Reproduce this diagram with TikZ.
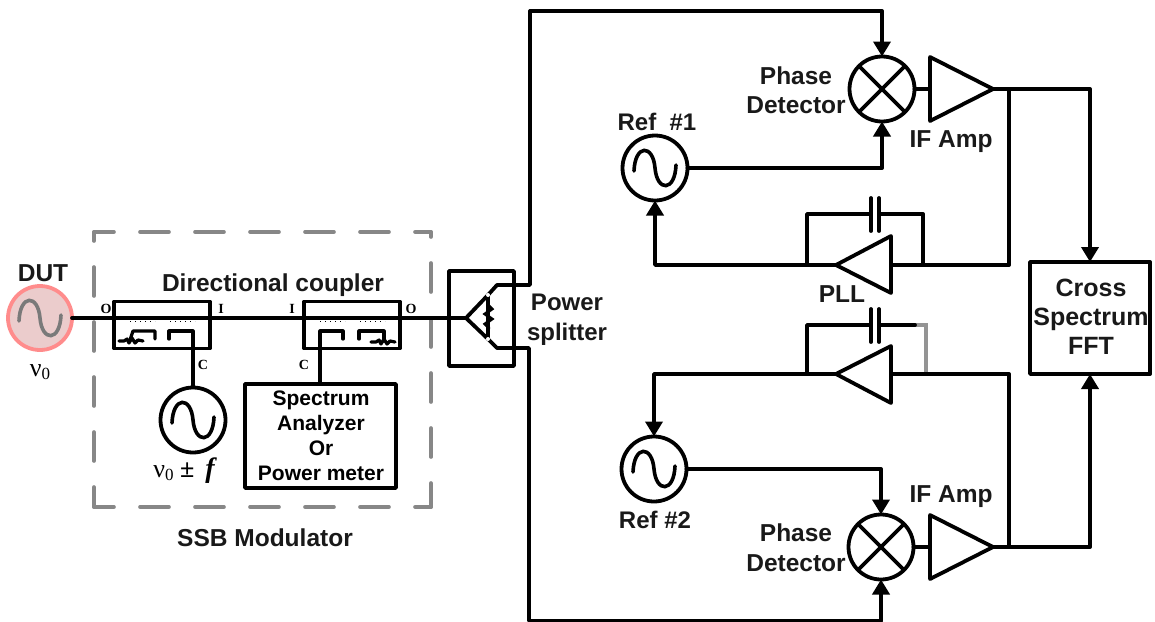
\documentclass[tikz,border=0pt]{standalone}
\usepackage{fontspec}
\setmainfont{Liberation Sans}
\newfontfamily\serifb{Liberation Serif}
\usetikzlibrary{arrows.meta,calc}
\tikzset{
  wire/.style={line width=3.8pt,line join=round,line cap=round,black},
  arr/.style={wire,-{Triangle[length=15pt,width=17pt]}},
  src/.style={circle,draw,line width=3.8pt,minimum size=65pt,inner sep=0pt,outer sep=0pt},
  lab/.style={font=\fontsize{24.5}{26}\bfseries\selectfont,align=center,inner sep=0pt,text=black!90},
  smallab/.style={font=\fontsize{21}{25}\bfseries\selectfont,align=center,inner sep=0pt},
  port/.style={font=\serifb\fontsize{14}{16}\bfseries\selectfont,inner sep=0pt},
  nu/.style={font=\serifb\fontsize{26}{28}\selectfont,inner sep=0pt},
  guard/.style={line width=3.6pt,draw=black!47,line cap=round,dash pattern=on 29pt off 26pt},
  dots/.style={line width=1pt,dash pattern=on 1pt off 4pt,black},
  box/.style={draw,line width=3.8pt,inner sep=0pt,outer sep=0pt,line join=round},
  thin2/.style={line width=3.2pt,line join=round,line cap=round}
}
\newcommand{\sinewave}[2][black]{\draw[line width=3.6pt,line cap=round,draw=#1,shift={(#2)}] (-21,3) .. controls (-20,-24) and (-2,-24) .. (0,0) .. controls (2,24) and (20,24) .. (21,-3);}
\newcommand{\mixcross}[1]{\draw[wire,line cap=butt] (#1.45)--(#1.225); \draw[wire,line cap=butt] (#1.135)--(#1.315);}
\newcommand{\squig}[1]{\draw[thin2,shift={(#1)}] (0,0) -- (5,0) -- (8,-2) -- (10,2) -- (13,-3) -- (16,2) -- (19,-1) -- (24,0);}
\begin{document}
\begin{tikzpicture}[x=1pt,y=-1pt]
\useasboundingbox (0,0) rectangle (1155,621);

% guard frame
\draw[guard,dash phase=20pt] (94,232) -- (94,507);
\draw[guard,dash phase=9pt] (94,507) -- (431,507);
\draw[guard,dash phase=9pt] (94,232) -- (431,232);
\draw[guard,dash phase=24pt] (431,232) -- (431,507);

% sources
\node[src,draw=red!45!white,fill=red!60!black!20!white,minimum size=64pt] (dut) at (40,318) {};
\sinewave[black!52]{dut}
\node[src] (lo) at (193,420) {};
\sinewave{lo}
\node[src] (ref1) at (655,168) {};
\sinewave{ref1}
\node[src] (ref2) at (654,469) {};
\sinewave{ref2}

% couplers
\node[box,minimum width=96pt,minimum height=47pt] (cp1) at (162,325) {};
\node[box,minimum width=96pt,minimum height=47pt] (cp2) at (352,325) {};
\node[box,minimum width=65pt,minimum height=95pt] (ps) at (481.5,318.5) {};
\node[box,minimum width=151pt,minimum height=104pt] (sa) at (320.5,436) {};
\node[box,minimum width=120pt,minimum height=112pt] (fft) at (1090,318) {};

% splitter inside
\coordinate (ptip) at (466,318);
\coordinate (ptop) at (488,295);
\coordinate (pbot) at (488,339);
\coordinate (pout1) at (497,285);
\coordinate (pout2) at (497,348);
\coordinate (btop) at (530,11);
\coordinate (bbot) at (529,621);
\draw[wire] (dut.east) -- (ptip);
\draw[wire] (ptip) -- (ptop) -- (pbot) -- cycle;
\draw[wire] (ptop) -- (pout1) -| (btop);
\draw[wire] (pbot) -- (pout2) -| (bbot);
\fill[white] (ptop) circle (2pt) (pbot) circle (2pt);
\draw[line width=3pt,line cap=round] (488,305) -- (492,309) -- (485,314) -- (492,319) -- (485,324) -- (489,328);

% coupler 1 inside
\draw[dots] (130,321) -- (155,321);
\draw[dots] (170,321) -- (195,321);
\draw[thin2] (130,340) -- (133,331) -- (155,331) -- (155,339);
\squig{119,341}
\coordinate (b1a) at (169,339);
\draw[thin2] (b1a) -- (169,331) -- (193,331) -- (lo.north);
% coupler 2 inside
\draw[dots] (320,321) -- (345,321);
\draw[dots] (360,321) -- (385,321);
\draw[thin2] (343,339) -- (343,331) -- (320,331) -- (320,331 |- sa.north);
\draw[thin2] (359,339) -- (359,331) -- (384,331) -- (384,341);
\squig{371,342}

% port letters
\node[port] at (106,309) {O};
\node[port] at (221,309) {I};
\node[port] at (203,365) {C};
\node[port] at (292,309) {I};
\node[port] at (411,309) {O};
\node[port] at (304,365) {C};

% top channel
\node[src,minimum size=65pt] (mx1) at (882,89) {};
\mixcross{mx1}
\coordinate (a1i) at (930,89);
\coordinate (a1t) at (930,57);
\coordinate (a1b) at (930,121);
\coordinate (a1o) at (993,89);
\draw[wire] (a1t) -- (a1b) -- (a1o) -- cycle;
\draw[wire] (mx1.east) -- (a1i);
\draw[arr] (btop) -| (mx1.north);
\draw[arr] (ref1.east) -| (mx1.south);
\draw[arr] (a1o) -| (fft.north);

% bottom channel
\node[src,minimum size=65pt] (mx2) at (881,547) {};
\mixcross{mx2}
\coordinate (a2i) at (930,547);
\coordinate (a2t) at (930,515);
\coordinate (a2b) at (930,579);
\coordinate (a2o) at (993,547);
\draw[wire] (a2t) -- (a2b) -- (a2o) -- cycle;
\draw[wire] (mx2.east) -- (a2i);
\draw[arr] (ref2.east) -| (mx2.north);
\draw[arr,line cap=butt] (bbot) -| (mx2.south);
\draw[arr] (a2o) -| (fft.south);

% PLL 1
\coordinate (p1o) at (836,265);
\coordinate (p1t) at (891,236);
\coordinate (p1b) at (891,293);
\coordinate (p1i) at (891,265);
\coordinate (fb1l) at (807,265);
\coordinate (fb1r) at (923,265);
\coordinate (c1a) at (871,214);
\coordinate (c1b) at (879,214);
\coordinate (tap1) at (1009,89);
\draw[wire] (p1o) -- (p1t) -- (p1b) -- cycle;
\draw[wire] (tap1) |- (p1i);
\draw[arr] (p1o) -| (ref1.south);
\draw[wire] (fb1l) |- (c1a);
\draw[wire] (fb1r) |- (c1b);
\draw[wire] (871,198) -- (c1a) -- (871,231);
\draw[wire] (879,198) -- (c1b) -- (879,231);

% PLL 2
\coordinate (p2o) at (836,374);
\coordinate (p2t) at (891,346);
\coordinate (p2b) at (891,403);
\coordinate (p2i) at (891,374);
\coordinate (fb2l) at (807,374);
\coordinate (fb2r) at (926,374);
\coordinate (c2a) at (871,325);
\coordinate (c2b) at (879,325);
\coordinate (tap2) at (1009,547);
\draw[line width=3.4pt,black!42,line join=miter] (915,325) -| (fb2r);
\draw[wire] (p2o) -- (p2t) -- (p2b) -- cycle;
\draw[wire] (tap2) |- (p2i);
\draw[arr] (p2o) -| (ref2.north);
\draw[wire] (fb2l) |- (c2a);
\draw[wire] (c2b) -- (915,325);
\draw[wire] (871,309) -- (c2a) -- (871,342);
\draw[wire] (879,309) -- (c2b) -- (879,342);

% labels
\node[lab] (tdut) at (43,273) {DUT};
\node[nu] (tnu) at (40,372) {ν\raisebox{-3pt}{\fontsize{17}{18}\selectfont 0}};
\node[lab] (tdc) at (273,285) {Directional coupler};
\node[lab] (tssb) at (265,538) {SSB Modulator};
\node[nu] (tlo) at (184,471) {ν\raisebox{-3pt}{\fontsize{17}{18}\selectfont 0} {\bfseries ±}\, {\fontsize{28}{28}\bfseries\itshape\selectfont f}};
\node[smallab] (tsa) at (321,436) {Spectrum\\Analyzer\\Or\\Power meter};
\node[lab,font=\fontsize{24}{30}\bfseries\selectfont] (tps) at (567,320) {Power\\splitter};
\node[lab,font=\fontsize{24.5}{29}\bfseries\selectfont] (tpd1) at (796,90) {Phase\\Detector};
\node[lab,font=\fontsize{24.5}{30}\bfseries\selectfont] (tpd2) at (796,548) {Phase\\Detector};
\node[lab] (tif1) at (951,142) {IF Amp};
\node[lab] (tif2) at (951,497) {IF Amp};
\node[lab,font=\fontsize{24}{26}\bfseries\selectfont] (tr1) at (657,122) {Ref\ \ \#1};
\node[lab,font=\fontsize{24}{26}\bfseries\selectfont] (tr2) at (655,520) {Ref \#2};
\node[lab] (tpll) at (842,294) {PLL};
\node[lab,font=\fontsize{25}{29}\bfseries\selectfont] (tfft) at (1091,317) {Cross\\Spectrum\\FFT};
\end{tikzpicture}
\end{document}
